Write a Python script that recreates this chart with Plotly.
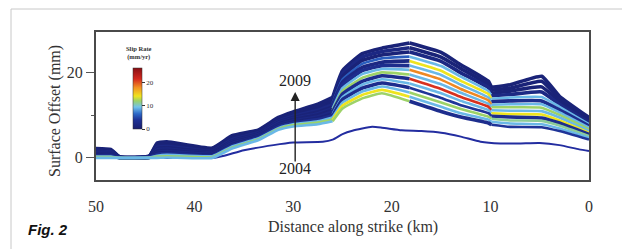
import plotly.graph_objects as go
from plotly.colors import sample_colorscale

# ---------------- data ----------------
# knots along strike (km)
knots_km = [50, 48.5, 47.6, 44.6, 43.8, 42.8, 38.2, 36.2, 33.5, 31.5, 30, 27.5, 26,
            25, 23, 21, 18.2, 15, 13, 10.2, 9.9, 8, 4.8, 3, 0]

# cumulative surface offset (mm) for the 2004-2009 profiles, bottom (0) to top (13)
line0 = [0.0, 0.0, 0.0, 0.0, 0.0, 0.1, 0.0, 2.2, 4.2, 6.6, 7.4, 7.9, 8.6, 11.6, 14.0, 15.2, 13.3, 10.9, 9.6, 8.2, 7.8, 7.3, 7.2, 6.3, 4.3]
line1 = [0.2, 0.2, 0.0, 0.0, 0.3, 0.4, 0.2, 2.4, 4.4, 6.8, 7.7, 8.3, 9.0, 12.3, 14.8, 16.0, 14.4, 12.0, 10.5, 9.0, 8.5, 8.1, 7.9, 6.9, 4.7]
line2 = [0.3, 0.3, 0.0, 0.1, 0.5, 0.7, 0.4, 2.7, 4.6, 7.0, 7.9, 8.6, 9.5, 13.0, 15.6, 16.8, 15.4, 13.0, 11.5, 9.7, 9.2, 8.8, 8.7, 7.6, 5.1]
line3 = [0.5, 0.5, 0.0, 0.1, 0.8, 1.0, 0.5, 2.9, 4.8, 7.3, 8.2, 9.0, 9.9, 13.7, 16.4, 17.6, 16.5, 14.1, 12.4, 10.5, 9.8, 9.6, 9.4, 8.2, 5.5]
line4 = [0.7, 0.6, 0.1, 0.1, 1.1, 1.2, 0.7, 3.1, 4.9, 7.5, 8.4, 9.3, 10.3, 14.3, 17.2, 18.5, 17.5, 15.2, 13.4, 11.2, 10.5, 10.3, 10.2, 8.8, 5.9]
line5 = [0.8, 0.8, 0.1, 0.2, 1.3, 1.5, 0.9, 3.4, 5.1, 7.7, 8.7, 9.7, 10.8, 15.0, 18.0, 19.3, 18.6, 16.2, 14.3, 12.0, 11.2, 11.1, 11.0, 9.5, 6.3]
line6 = [1.0, 0.9, 0.1, 0.2, 1.6, 1.8, 1.1, 3.6, 5.3, 7.9, 9.0, 10.1, 11.2, 15.7, 18.8, 20.1, 19.6, 17.3, 15.3, 12.7, 11.9, 11.9, 11.8, 10.1, 6.7]
line7 = [1.2, 1.1, 0.1, 0.2, 1.9, 2.1, 1.2, 3.8, 5.5, 8.2, 9.2, 10.4, 11.6, 16.4, 19.7, 20.9, 20.7, 18.4, 16.2, 13.5, 12.5, 12.6, 12.6, 10.7, 7.1]
line8 = [1.4, 1.2, 0.1, 0.2, 2.2, 2.4, 1.4, 4.0, 5.7, 8.4, 9.5, 10.8, 12.0, 17.1, 20.5, 21.7, 21.7, 19.5, 17.2, 14.2, 13.2, 13.4, 13.4, 11.3, 7.5]
line9 = [1.5, 1.4, 0.1, 0.3, 2.4, 2.7, 1.6, 4.3, 5.9, 8.6, 9.8, 11.2, 12.5, 17.8, 21.3, 22.5, 22.8, 20.5, 18.1, 15.0, 13.9, 14.2, 14.3, 12.0, 7.9]
line10 = [1.7, 1.5, 0.2, 0.3, 2.7, 3.0, 1.8, 4.5, 6.0, 8.8, 10.0, 11.5, 12.9, 18.4, 22.1, 23.4, 23.8, 21.6, 19.1, 15.7, 14.6, 14.9, 15.5, 12.6, 8.3]
line11 = [1.9, 1.7, 0.2, 0.3, 3.0, 3.2, 1.9, 4.7, 6.2, 9.1, 10.3, 11.9, 13.3, 19.1, 22.9, 24.2, 24.9, 22.7, 20.0, 16.5, 15.2, 15.7, 16.7, 13.2, 8.7]
line12 = [2.0, 1.8, 0.2, 0.4, 3.2, 3.5, 2.1, 5.0, 6.4, 9.3, 10.5, 12.2, 13.8, 19.8, 23.7, 25.0, 25.9, 23.7, 21.0, 17.2, 15.9, 16.4, 18.0, 13.9, 9.1]
line13 = [2.2, 2.0, 0.2, 0.4, 3.5, 3.8, 2.3, 5.2, 6.6, 9.5, 10.8, 12.6, 14.2, 20.5, 24.5, 25.8, 27.0, 24.8, 21.9, 18.0, 16.6, 17.2, 19.2, 14.5, 9.5]

# slip rate (mm/yr) shown by each profile in four along-strike sections
rate0 = [9, 12, 3, 4]
rate1 = [12, 14, 9, 9]
rate2 = [9, 9, 12, 11]
rate3 = [3, 3, 4, 3]
rate4 = [1, 9, 9, 14]
rate5 = [2, 3, 21, 9]
rate6 = [1, 12, 9, 12]
rate7 = [2, 9, 18, 9]
rate8 = [1, 3, 9, 3]
rate9 = [2, 2, 14, 9]
rate10 = [1, 6, 9, 2]
rate11 = [1, 1, 2, 1]
rate12 = [1, 2, 1, 1]
rate13 = [1, 1, 1, 1]

# 2004 profile
km_2004 = [50, 40, 38.2, 37, 35, 32, 30, 27, 26, 25, 24, 22, 21, 19, 17, 15, 13, 11, 9, 7, 5, 3, 1, 0]
mm_2004 = [0, 0, 0, 0.5, 1.8, 3.0, 3.6, 3.8, 4.3, 5.6, 6.4, 7.3, 7.1, 6.5, 6.3, 5.9, 5.0, 3.8, 3.4, 3.4, 3.5, 3.0, 2.0, 1.6]

x_ticks = [50, 40, 30, 20, 10, 0]
y_ticks = [0, 20]
cbar_ticks = [0, 10, 20]

profiles = [line0, line1, line2, line3, line4, line5, line6, line7,
            line8, line9, line10, line11, line12, line13]
rates = [rate0, rate1, rate2, rate3, rate4, rate5, rate6, rate7,
         rate8, rate9, rate10, rate11, rate12, rate13]
sections = [(0, 12), (12, 16), (16, 20), (20, 24)]

RATE_MAX = 26
cscale = [[0.0, 'rgb(25,30,110)'], [0.15, 'rgb(30,50,150)'], [0.25, 'rgb(45,105,200)'],
          [0.36, 'rgb(115,195,235)'], [0.46, 'rgb(155,210,105)'], [0.54, 'rgb(240,228,30)'],
          [0.68, 'rgb(242,145,35)'], [0.82, 'rgb(212,40,30)'], [1.0, 'rgb(135,15,20)']]

fig = go.Figure()

# 2004 line
fig.add_trace(go.Scatter(x=km_2004, y=mm_2004, mode='lines',
                         line=dict(color='rgb(35,45,160)', width=2, shape='spline', smoothing=0.5),
                         hoverinfo='skip', showlegend=False))

for idx in range(len(profiles) - 1, -1, -1):
    prof = profiles[idx]
    for s, (a, b) in enumerate(sections):
        r = rates[idx][s]
        col = sample_colorscale(cscale, [r / RATE_MAX])[0]
        w = 3.6 if r <= 3 else 2.6
        fig.add_trace(go.Scatter(x=knots_km[a:b + 1], y=prof[a:b + 1], mode='lines',
                                 line=dict(color=col, width=w, shape='spline', smoothing=0.4),
                                 hoverinfo='skip', showlegend=False))

# page pixel -> plot-area fraction (plot area: x 96..589, y 32..180 in the page)
def px(p):
    return (p - 96) / 493


def py(p):
    return (180 - p) / 148


# colour bar
fig.add_trace(go.Scatter(x=[None], y=[None], mode='markers', showlegend=False,
                         marker=dict(color=[0], colorscale=cscale, cmin=0, cmax=RATE_MAX,
                                     showscale=True,
                                     colorbar=dict(thickness=9, len=61 / 148, lenmode='fraction',
                                                   x=px(133), xanchor='left', xpad=0,
                                                   y=py(98.5), yanchor='middle', ypad=0,
                                                   outlinecolor='#333', outlinewidth=0.5,
                                                   ticks='outside', ticklen=3, tickwidth=1,
                                                   tickcolor='#333', tickvals=cbar_ticks,
                                                   tickfont=dict(family='Liberation Serif', size=7,
                                                                 color='#333')))))

serif = 'Liberation Serif'
# the page body adds an 8px offset, so the figure is 8px smaller and shifted
fig.update_layout(
    width=622, height=241,
    margin=dict(l=88, r=41, t=24, b=69, autoexpand=False),
    paper_bgcolor='white', plot_bgcolor='white',
    xaxis=dict(range=[50, 0], tickvals=x_ticks, ticks='', showgrid=False, zeroline=False,
               showline=True, mirror=True, linecolor='#4a4a4a', linewidth=2,
               ticklabelstandoff=11,
               tickfont=dict(family=serif, size=16, color='#333')),
    yaxis=dict(range=[-5.2, 29.6], tickvals=y_ticks, ticks='outside', ticklen=8, tickwidth=1,
               tickcolor='#555', showgrid=False, zeroline=False,
               showline=True, mirror=True, linecolor='#4a4a4a', linewidth=2,
               minor=dict(tickvals=[10], ticks='outside', ticklen=3, tickcolor='#555'),
               tickfont=dict(family=serif, size=16, color='#333')),
    shapes=[dict(type='rect', xref='paper', yref='paper',
                 x0=px(11), x1=px(625), y0=py(260), y1=py(9),
                 line=dict(color='#c8c8c8', width=1), fillcolor='rgba(0,0,0,0)', layer='below')],
    annotations=[
        dict(text='Surface Offset (mm)', xref='paper', yref='paper', x=px(55),
             y=py(111), textangle=-90, showarrow=False,
             font=dict(family=serif, size=16, color='#333'), xanchor='center', yanchor='middle'),
        dict(text='Distance along strike (km)', xref='paper', yref='paper', x=px(353),
             y=py(227), showarrow=False,
             font=dict(family=serif, size=16, color='#333'), xanchor='center', yanchor='middle'),
        dict(text='<b><i>Fig. 2</i></b>', xref='paper', yref='paper', x=px(26),
             y=py(230), showarrow=False, xanchor='left', yanchor='middle',
             font=dict(family='Liberation Sans', size=15, color='#111')),
        dict(text='<b>Slip Rate</b><br><b>(mm/yr)</b>', xref='paper', yref='paper',
             x=px(139), y=py(53), showarrow=False,
             xanchor='center', yanchor='middle',
             font=dict(family=serif, size=6.5, color='#333')),
        dict(text='2009', x=29.8, y=18.2, xref='x', yref='y', showarrow=False,
             font=dict(family=serif, size=16, color='#222')),
        dict(text='2004', x=29.8, y=-2.6, xref='x', yref='y', showarrow=False,
             font=dict(family=serif, size=16, color='#222')),
        dict(text='', x=29.8, y=15.5, xref='x', yref='y', showarrow=True,
             ax=0, ay=71, arrowhead=2, arrowsize=1.3, arrowwidth=1.4, arrowcolor='#222'),
    ],
)

fig.write_html('out.html')
